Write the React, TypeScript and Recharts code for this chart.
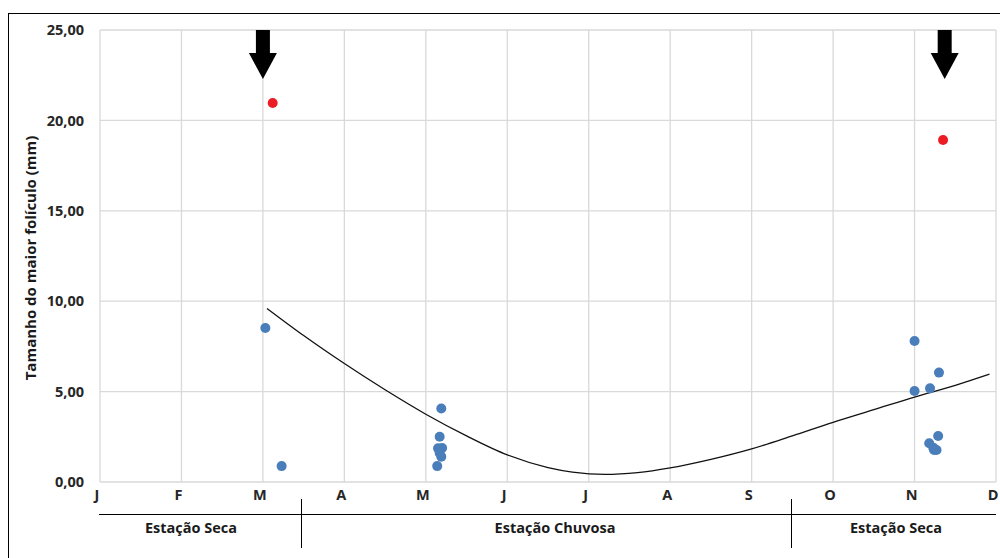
import React from "react";
import {
  ComposedChart,
  Scatter,
  Line,
  XAxis,
  YAxis,
  CartesianGrid,
  ReferenceDot,
} from "recharts";

/* ===== Data ===== */
const MONTHS = ["J", "F", "M", "A", "M", "J", "J", "A", "S", "O", "N", "D"];
const Y_TICKS = [0, 5, 10, 15, 20, 25];

// follicles (month index, size mm)
const BLUE_X = [2.03, 2.23, 4.19, 4.17, 4.15, 4.2, 4.17, 4.19, 4.14, 10.0, 10.0, 10.19, 10.3, 10.29, 10.18, 10.23, 10.27, 10.24];
const BLUE_Y = [8.52, 0.88, 4.07, 2.5, 1.86, 1.88, 1.6, 1.4, 0.88, 7.8, 5.03, 5.18, 6.05, 2.54, 2.14, 1.9, 1.77, 1.77];

// ovulatory follicles
const RED_X = [2.12, 10.35];
const RED_Y = [20.96, 18.92];

// polynomial trend line
const TREND_X = [2.05, 2.5, 3.0, 3.5, 4.0, 4.5, 5.0, 5.5, 5.8, 6.2, 6.6, 7.0, 7.5, 8.0, 8.5, 9.0, 9.5, 10.0, 10.5, 10.92];
const TREND_Y = [9.6, 8.1, 6.55, 5.1, 3.75, 2.55, 1.5, 0.8, 0.55, 0.42, 0.52, 0.78, 1.25, 1.83, 2.55, 3.3, 4.0, 4.7, 5.35, 5.97];

// arrows marking the ovulations
const ARROW_X = [2.0, 10.37];

const SEASONS = ["Estação Seca", "Estação Chuvosa", "Estação Seca"];

const blueData = BLUE_X.map((x, i) => ({ x, y: BLUE_Y[i] }));
const redData = RED_X.map((x, i) => ({ x, y: RED_Y[i] }));
const trendData = TREND_X.map((x, i) => ({ x, y: TREND_Y[i] }));

const FONT = "'Open Sans', sans-serif";
const TEXT = "#262626";

function Arrow({ cx, cy }: any) {
  if (cx == null || cy == null) return null;
  const pts = [
    [cx - 7, cy],
    [cx + 7, cy],
    [cx + 7, cy + 23],
    [cx + 14, cy + 23],
    [cx, cy + 49],
    [cx - 14, cy + 23],
    [cx - 7, cy + 23],
  ]
    .map((p) => p.join(","))
    .join(" ");
  return <polygon points={pts} fill="#000" />;
}

export default function App() {
  return (
    <div
      style={{
        position: "absolute",
        left: 0,
        top: 0,
        width: 1000,
        height: 558,
        background: "#fff",
        fontFamily: FONT,
        overflow: "hidden",
      }}
    >
      {/* ===== frame ===== */}
      <div
        style={{
          position: "absolute",
          left: 8,
          top: 13,
          width: 1000,
          height: 600,
          borderLeft: "1px solid #000",
          borderTop: "1px solid #000",
        }}
      />

      <div style={{ position: "absolute", left: 0, top: 0 }}>
        <ComposedChart
          width={1000}
          height={558}
          margin={{ top: 30, right: 4, left: 0, bottom: 56 }}
        >
          <CartesianGrid stroke="#d9d9d9" strokeWidth={1.3} />
          <XAxis
            type="number"
            dataKey="x"
            domain={[0, 11]}
            ticks={MONTHS.map((_, i) => i)}
            tickFormatter={(v) => MONTHS[v] ?? ""}
            interval={0}
            axisLine={false}
            tickLine={false}
            height={20}
            tick={{ fill: TEXT, fontSize: 14.5, fontWeight: 700, fontFamily: FONT, dx: -3 }}
          />
          <YAxis
            type="number"
            dataKey="y"
            domain={[0, 25]}
            ticks={Y_TICKS}
            tickFormatter={(v) => v.toFixed(2).replace(".", ",")}
            axisLine={false}
            tickLine={false}
            width={100}
            tickMargin={10}
            tick={{ fill: TEXT, fontSize: 14.5, fontWeight: 700, fontFamily: FONT }}
            label={{
              content: () => (
                <text
                  x={30}
                  y={258}
                  transform="rotate(-90 30 258)"
                  textAnchor="middle"
                  dominantBaseline="central"
                  fill="#1a1a1a"
                  fontSize={15}
                  fontWeight={700}
                  fontFamily={FONT}
                >
                  Tamanho do maior folículo (mm)
                </text>
              ),
            }}
          />
          <Line
            data={trendData}
            dataKey="y"
            type="monotone"
            stroke="#111"
            strokeWidth={1.3}
            dot={false}
            activeDot={false}
            isAnimationActive={false}
          />
          <Scatter data={blueData} fill="#4a7ebb" isAnimationActive={false} shape={(p: any) => <circle cx={p.cx} cy={p.cy} r={5} fill="#4a7ebb" />} />
          <Scatter data={redData} fill="#ec1c24" isAnimationActive={false} shape={(p: any) => <circle cx={p.cx} cy={p.cy} r={5} fill="#ec1c24" />} />
          {ARROW_X.map((x, i) => (
            <ReferenceDot key={i} x={x} y={25} ifOverflow="visible" shape={<Arrow />} />
          ))}
        </ComposedChart>
      </div>

      {/* ===== seasons row ===== */}
      <div style={{ position: "absolute", left: 99, top: 514, width: 897, height: 1, background: "#000" }} />
      <div style={{ position: "absolute", left: 301, top: 499, width: 1, height: 49, background: "#000" }} />
      <div style={{ position: "absolute", left: 791, top: 499, width: 1, height: 49, background: "#000" }} />
      {SEASONS.map((s, i) => {
        const centers = [191, 555, 896];
        return (
          <div
            key={i}
            style={{
              position: "absolute",
              left: centers[i] - 100,
              width: 200,
              top: 518,
              textAlign: "center",
              fontSize: 14.5,
              fontWeight: 700,
              color: "#1a1a1a",
              lineHeight: "20px",
            }}
          >
            {s}
          </div>
        );
      })}
    </div>
  );
}
